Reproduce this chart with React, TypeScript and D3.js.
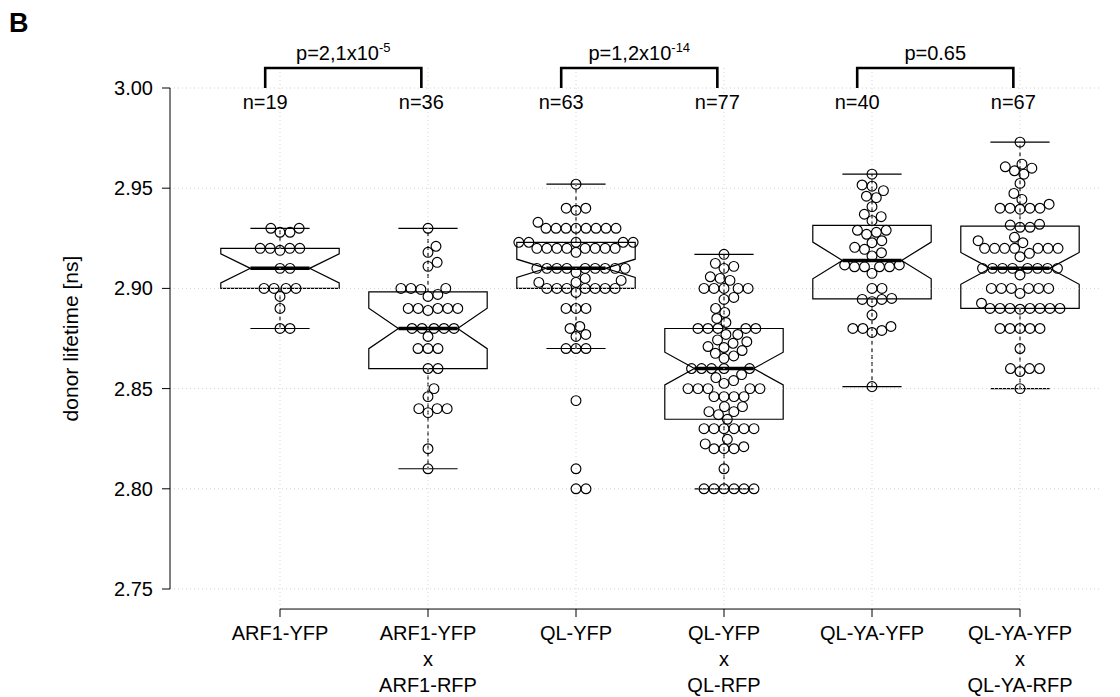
import React from "react";
import * as d3 from "d3";

// groups, one box + swarm each
const groupLines = [
  ["ARF1-YFP"],
  ["ARF1-YFP", "x", "ARF1-RFP"],
  ["QL-YFP"],
  ["QL-YFP", "x", "QL-RFP"],
  ["QL-YA-YFP"],
  ["QL-YA-YFP", "x", "QL-YA-RFP"],
];

// donor lifetimes [ns]
const arf1Yfp = [2.93, 2.93, 2.928, 2.928, 2.92, 2.92, 2.92, 2.92, 2.919, 2.91, 2.91, 2.9, 2.9, 2.9, 2.9, 2.896, 2.89, 2.88, 2.88];
const arf1Rfp = [
  2.93, 2.921, 2.918, 2.913, 2.911, 2.9, 2.9, 2.9, 2.8995, 2.897, 2.896, 2.89, 2.89, 2.89, 2.89, 2.89, 2.889,
  2.88, 2.88, 2.88, 2.88, 2.88, 2.876, 2.87, 2.87, 2.87, 2.86, 2.86, 2.85, 2.846, 2.84, 2.84, 2.84, 2.838, 2.82, 2.81,
];
const qlYfp = [
  2.952, 2.94, 2.94, 2.939, 2.933, 2.93, 2.93, 2.93, 2.93, 2.93, 2.93, 2.93, 2.93,
  2.923, 2.923, 2.923, 2.923, 2.923, 2.92, 2.92, 2.92, 2.92, 2.92, 2.92, 2.92, 2.92, 2.918,
  2.91, 2.91, 2.91, 2.91, 2.91, 2.91, 2.91, 2.91, 2.91, 2.908, 2.905, 2.904, 2.903, 2.903,
  2.9, 2.9, 2.9, 2.9, 2.9, 2.9, 2.9, 2.898, 2.89, 2.89, 2.89, 2.881, 2.88, 2.877, 2.876,
  2.87, 2.87, 2.87, 2.844, 2.81, 2.8, 2.8,
];
const qlRfp = [
  2.917, 2.9125, 2.911, 2.91, 2.9058, 2.905, 2.904, 2.9, 2.9, 2.9, 2.9, 2.9, 2.8955, 2.8945, 2.89, 2.888, 2.885, 2.883,
  2.88, 2.88, 2.88, 2.88, 2.88, 2.877, 2.877, 2.8743, 2.8734, 2.8726, 2.871, 2.8705, 2.869, 2.8676, 2.8663, 2.8651,
  2.86, 2.86, 2.86, 2.86, 2.86, 2.857, 2.8555, 2.854, 2.8526, 2.85, 2.85, 2.85, 2.85, 2.85,
  2.846, 2.846, 2.846, 2.846, 2.841, 2.841, 2.8385, 2.8385, 2.837, 2.8347,
  2.83, 2.83, 2.83, 2.83, 2.83, 2.83, 2.8247, 2.8224, 2.821, 2.82, 2.82, 2.82, 2.81,
  2.8, 2.8, 2.8, 2.8, 2.8, 2.8,
];
const qlyaYfp = [
  2.957, 2.9516, 2.951, 2.9488, 2.946, 2.9453, 2.9408, 2.937, 2.9358, 2.9338, 2.929, 2.929, 2.928, 2.927,
  2.9238, 2.9228, 2.9205, 2.9195, 2.9178, 2.9162, 2.9117, 2.9117, 2.9108, 2.9108, 2.9108, 2.9108, 2.9075,
  2.9, 2.9, 2.895, 2.8945, 2.8945, 2.8934, 2.8867, 2.881, 2.88, 2.88, 2.879, 2.878, 2.851,
];
const qlyaRfp = [
  2.973, 2.962, 2.9607, 2.96, 2.9587, 2.957, 2.9524, 2.9474, 2.9444, 2.942, 2.94, 2.94, 2.94, 2.94, 2.9395,
  2.932, 2.9316, 2.9305, 2.9305, 2.9255, 2.9238, 2.9228, 2.92, 2.92, 2.92, 2.92, 2.92, 2.92, 2.92, 2.9175, 2.9158,
  2.91, 2.91, 2.91, 2.91, 2.91, 2.91, 2.91, 2.91, 2.9067, 2.9, 2.9, 2.9, 2.9, 2.9, 2.9, 2.8975, 2.8926,
  2.89, 2.89, 2.89, 2.89, 2.89, 2.89, 2.89, 2.8896, 2.88, 2.88, 2.88, 2.88, 2.88, 2.87,
  2.86, 2.86, 2.86, 2.8585, 2.85,
];
const lifetimes = [arf1Yfp, arf1Rfp, qlYfp, qlRfp, qlyaYfp, qlyaRfp];

const yTicks = [2.75, 2.8, 2.85, 2.9, 2.95, 3.0];

// significance brackets
const comparisons = [[0, 1], [2, 3], [4, 5]];
const pBase = ["p=2,1x10", "p=1,2x10", "p=0.65"];
const pExp = ["-5", "-14", ""];

const font = "'Liberation Sans', Arial, Helvetica, sans-serif";

// R style fivenum (Tukey hinges)
function fivenum(vals: number[]) {
  const s = [...vals].sort((a, b) => a - b);
  const n = s.length;
  const n4 = Math.floor((n + 3) / 2) / 2;
  const d = [1, n4, (n + 1) / 2, n + 1 - n4, n];
  return d.map((di) => 0.5 * (s[Math.floor(di) - 1] + s[Math.ceil(di) - 1]));
}

// beeswarm "swarm" layout, ascending priority, offsets in px
function swarm(ys: number[], size: number) {
  const order = ys.map((y, i) => i).sort((a, b) => ys[b] - ys[a]);
  const dx = new Array(ys.length).fill(0);
  const placed: number[] = [];
  order.forEach((i) => {
    const near = placed.filter((j) => Math.abs(ys[i] - ys[j]) < size);
    if (near.length) {
      near.sort((a, b) => Math.abs(dx[a]) - Math.abs(dx[b]));
      const off = near.map((j) => Math.sqrt(size * size - (ys[i] - ys[j]) ** 2));
      const cands = [0, ...near.map((j, k) => dx[j] + off[k]), ...near.map((j, k) => dx[j] - off[k])];
      let best = Infinity;
      cands.forEach((c) => {
        const bad = near.some((j) => (ys[i] - ys[j]) ** 2 + (c - dx[j]) ** 2 < 0.999 * size * size);
        if (!bad && Math.abs(c) < Math.abs(best)) best = c;
      });
      dx[i] = best;
    }
    placed.push(i);
  });
  return dx;
}

export default function App() {
  const W = 1120, H = 697;
  const x = d3.scalePoint<number>().domain(d3.range(lifetimes.length)).range([280, 1020]);
  const step = x.step();
  const y = d3.scaleLinear().domain([2.75, 3.0]).range([589, 88]);
  const left = 170, right = 1100, top = y(3.01), bottom = y(2.74);
  const boxW = step * 0.4;

  const stats = lifetimes.map((vals) => {
    const [, lo, med, hi] = fivenum(vals);
    const iqr = hi - lo;
    const wHi = d3.max(vals.filter((v) => v <= hi + 1.5 * iqr)) as number;
    const wLo = d3.min(vals.filter((v) => v >= lo - 1.5 * iqr)) as number;
    const notch = (1.58 * iqr) / Math.sqrt(vals.length);
    return { lo, med, hi, wHi, wLo, nHi: med + notch, nLo: med - notch };
  });

  return (
    <svg width={W} height={H} style={{ position: "absolute", left: 0, top: 0, background: "#fff" }} fontFamily={font}>
      <text x={9} y={32} fontSize={27} fontWeight="bold">B</text>

      {/* boxes */}
      {stats.map((s, i) => {
        const cx = x(i) as number;
        const pts = [
          [cx - boxW, y(s.hi)], [cx - boxW, y(s.nHi)], [cx - boxW / 2, y(s.med)], [cx - boxW, y(s.nLo)],
          [cx - boxW, y(s.lo)], [cx + boxW, y(s.lo)], [cx + boxW, y(s.nLo)], [cx + boxW / 2, y(s.med)],
          [cx + boxW, y(s.nHi)], [cx + boxW, y(s.hi)],
        ];
        const cap = boxW / 2;
        return (
          <g key={i} stroke="#000" fill="none">
            <line x1={cx} x2={cx} y1={y(s.hi)} y2={y(s.wHi)} strokeDasharray="4,3" strokeWidth={1.1} />
            <line x1={cx} x2={cx} y1={y(s.lo)} y2={y(s.wLo)} strokeDasharray="4,3" strokeWidth={1.1} />
            <line x1={cx - cap} x2={cx + cap} y1={y(s.wHi)} y2={y(s.wHi)} strokeWidth={1.2} />
            <line x1={cx - cap} x2={cx + cap} y1={y(s.wLo)} y2={y(s.wLo)} strokeWidth={1.2} />
            <polygon points={pts.map((p) => p.join(",")).join(" ")} strokeWidth={1.2} />
            <line x1={cx - boxW / 2} x2={cx + boxW / 2} y1={y(s.med)} y2={y(s.med)} strokeWidth={3.5} />
          </g>
        );
      })}

      {/* grid */}
      <g stroke="#d3d3d3" strokeDasharray="1,3" strokeWidth={1}>
        {yTicks.map((t) => (
          <line key={t} x1={left} x2={right} y1={y(t)} y2={y(t)} />
        ))}
        {lifetimes.map((_, i) => (
          <line key={i} x1={x(i)} x2={x(i)} y1={top} y2={bottom} />
        ))}
      </g>

      {/* points */}
      {lifetimes.map((vals, i) => {
        const ys = vals.map((v) => y(v));
        const dx = swarm(ys, 10);
        return (
          <g key={i} stroke="#000" fill="none" strokeWidth={1.15}>
            {ys.map((py, k) => (
              <circle key={k} cx={(x(i) as number) + dx[k]} cy={py} r={4.9} />
            ))}
          </g>
        );
      })}

      {/* y axis */}
      <g stroke="#000" strokeWidth={1}>
        <line x1={left} x2={left} y1={y(2.75)} y2={y(3.0)} />
        {yTicks.map((t) => (
          <line key={t} x1={left - 8} x2={left} y1={y(t)} y2={y(t)} />
        ))}
      </g>
      {yTicks.map((t) => (
        <text key={t} x={153} y={y(t) + 7} fontSize={20} textAnchor="end">{d3.format(".2f")(t)}</text>
      ))}
      <text transform={`translate(78,${(y(2.75) + y(3.0)) / 2}) rotate(-90)`} fontSize={21} textAnchor="middle">
        donor lifetime [ns]
      </text>

      {/* x axis */}
      <g stroke="#000" strokeWidth={1}>
        <line x1={x(0)} x2={x(lifetimes.length - 1)} y1={bottom} y2={bottom} />
        {lifetimes.map((_, i) => (
          <line key={i} x1={x(i)} x2={x(i)} y1={bottom} y2={bottom + 8} />
        ))}
      </g>
      {groupLines.map((lines, i) =>
        lines.map((l, k) => (
          <text key={i + "-" + k} x={x(i)} y={640 + k * 26} fontSize={20} textAnchor="middle">{l}</text>
        ))
      )}

      {/* brackets, n labels */}
      {comparisons.map(([a, b], k) => {
        const xa = (x(a) as number) - step * 0.1;
        const xb = (x(b) as number) - step * 0.045;
        const yTop = y(3.01);
        return (
          <g key={k}>
            <path d={`M${xa},${y(3.0)}V${yTop}H${xb}V${y(3.0)}`} stroke="#000" strokeWidth={2.6} fill="none" />
            <text x={(xa + xb) / 2} y={60} fontSize={20} textAnchor="middle">
              {pBase[k]}
              {pExp[k] && <tspan fontSize={13} dy={-8}>{pExp[k]}</tspan>}
            </text>
            <text x={xa} y={109} fontSize={20} textAnchor="middle">{"n=" + lifetimes[a].length}</text>
            <text x={xb} y={109} fontSize={20} textAnchor="middle">{"n=" + lifetimes[b].length}</text>
          </g>
        );
      })}
    </svg>
  );
}
